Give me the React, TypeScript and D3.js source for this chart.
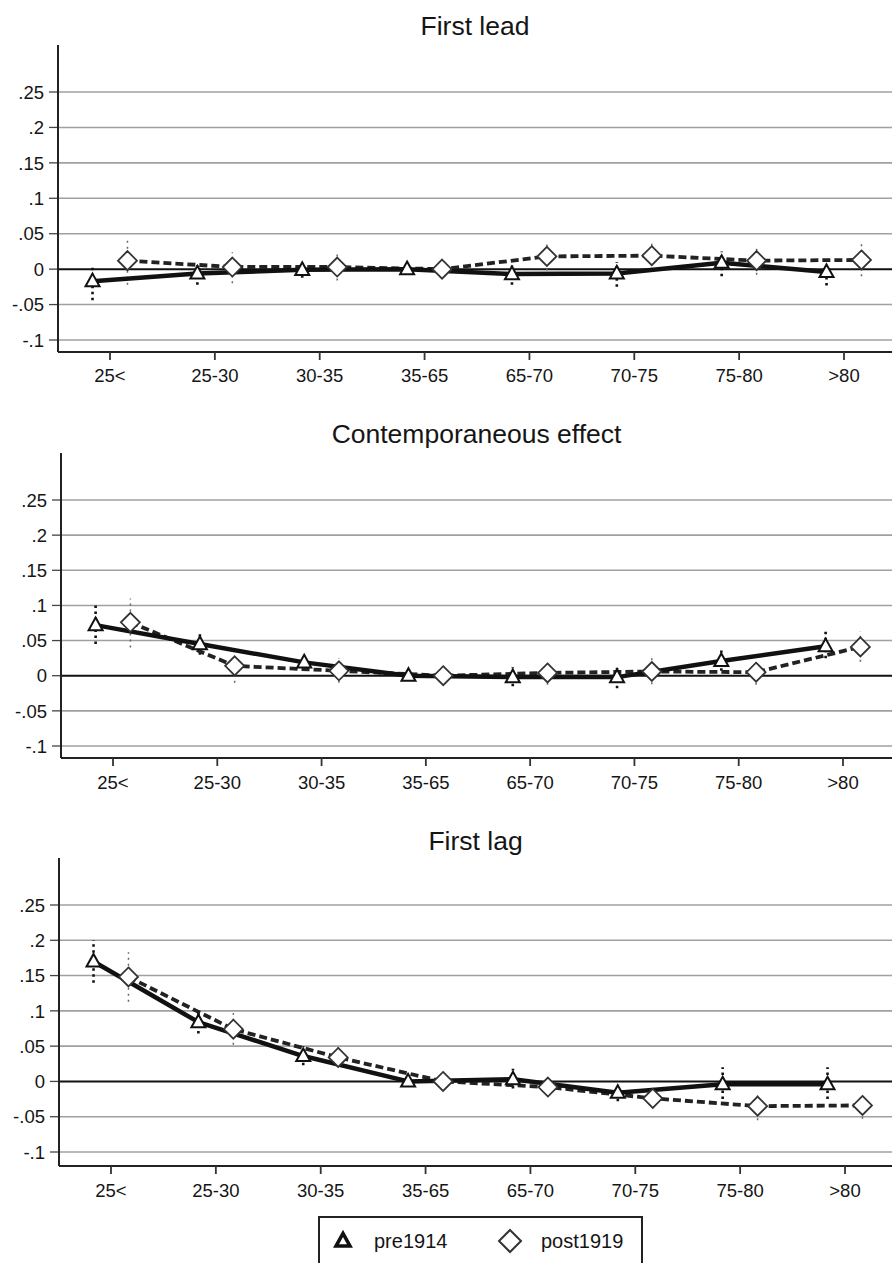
import React from "react";
import * as d3 from "d3";

const categories = ["25<", "25-30", "30-35", "35-65", "65-70", "70-75", "75-80", ">80"];
const yTicks = [-0.1, -0.05, 0, 0.05, 0.1, 0.15, 0.2, 0.25];
const yTickLabels = ["-.1", "-.05", "0", ".05", ".1", ".15", ".2", ".25"];
const panelTitles = ["First lead", "Contemporaneous effect", "First lag"];
const seriesNames = ["pre1914", "post1919"];

// First lead
const leadPre = [-0.017, -0.006, -0.001, 0, -0.007, -0.006, 0.009, -0.004];
const leadPreLo = [-0.044, -0.022, -0.012, 0, -0.022, -0.025, -0.01, -0.023];
const leadPreHi = [0.003, 0.005, 0.01, 0, 0.005, 0.01, 0.025, 0.01];
const leadPost = [0.012, 0.003, 0.003, 0, 0.018, 0.019, 0.012, 0.013];
const leadPostLo = [-0.022, -0.02, -0.016, 0, -0.002, -0.001, -0.008, -0.01];
const leadPostHi = [0.042, 0.024, 0.022, 0, 0.038, 0.04, 0.03, 0.035];

// Contemporaneous effect
const contPre = [0.072, 0.045, 0.019, 0, -0.002, -0.002, 0.021, 0.042];
const contPreLo = [0.045, 0.03, 0.008, 0, -0.015, -0.018, 0.007, 0.025];
const contPreHi = [0.1, 0.062, 0.03, 0, 0.012, 0.012, 0.036, 0.063];
const contPost = [0.076, 0.014, 0.007, 0, 0.004, 0.006, 0.005, 0.041];
const contPostLo = [0.04, -0.01, -0.01, 0, -0.013, -0.012, -0.013, 0.02];
const contPostHi = [0.11, 0.03, 0.025, 0, 0.02, 0.025, 0.015, 0.063];

// First lag
const lagPre = [0.17, 0.084, 0.036, 0, 0.003, -0.016, -0.004, -0.004];
const lagPreLo = [0.14, 0.068, 0.023, 0, -0.01, -0.028, -0.025, -0.025];
const lagPreHi = [0.2, 0.1, 0.05, 0, 0.018, -0.003, 0.02, 0.02];
const lagPost = [0.148, 0.074, 0.034, 0, -0.008, -0.024, -0.035, -0.034];
const lagPostLo = [0.113, 0.052, 0.02, 0, -0.022, -0.038, -0.055, -0.053];
const lagPostHi = [0.183, 0.097, 0.05, 0, 0.005, -0.01, -0.02, -0.02];

const panelData = [
  { pre: leadPre, preLo: leadPreLo, preHi: leadPreHi, post: leadPost, postLo: leadPostLo, postHi: leadPostHi },
  { pre: contPre, preLo: contPreLo, preHi: contPreHi, post: contPost, postLo: contPostLo, postHi: contPostHi },
  { pre: lagPre, preLo: lagPreLo, preHi: lagPreHi, post: lagPost, postLo: lagPostLo, postHi: lagPostHi },
];

// layout (pixels)
const W = 892;
const H = 1263;
const layouts = [
  { axisX: 58, axisTop: 45, yBottom: 340, yTop: 92, xAxisY: 352, x0: 110, x1: 844, titleY: 35, labelY: 382 },
  { axisX: 61, axisTop: 453, yBottom: 746, yTop: 500, xAxisY: 758, x0: 113, x1: 843, titleY: 443, labelY: 789 },
  { axisX: 59, axisTop: 858, yBottom: 1152, yTop: 905, xAxisY: 1166, x0: 111, x1: 845, titleY: 850, labelY: 1197 },
];

const FONT = "'Liberation Sans', Arial, Helvetica, sans-serif";
const TXT = "#151515";

function triPath(cx: number, cy: number, s: number) {
  const h = s * 0.9;
  return `M${cx},${cy - h * 0.6} L${cx + s / 2},${cy + h * 0.4} L${cx - s / 2},${cy + h * 0.4} Z`;
}
function diaPath(cx: number, cy: number, r: number) {
  return `M${cx},${cy - r} L${cx + r},${cy} L${cx},${cy + r} L${cx - r},${cy} Z`;
}

function Panel({ idx }: { idx: number }) {
  const L = layouts[idx];
  const d = panelData[idx];
  const x = d3.scalePoint<string>().domain(categories).range([L.x0, L.x1]);
  const step = x.step();
  const off = step / 6;
  const y = d3.scaleLinear().domain([-0.1, 0.25]).range([L.yBottom, L.yTop]);
  const preLine = d3.line<number>().x((_, i) => (x(categories[i]) as number) - off).y((v) => y(v));
  const postLine = d3.line<number>().x((_, i) => (x(categories[i]) as number) + off).y((v) => y(v));
  const plotCenter = (L.axisX + W) / 2;
  return (
    <g>
      <text x={plotCenter} y={L.titleY} textAnchor="middle" fontSize={26.5} fill={TXT} fontFamily={FONT}>
        {panelTitles[idx]}
      </text>
      {yTicks.map((t, i) => (
        <g key={"g" + i}>
          {t !== 0 && (
            <line x1={L.axisX} x2={W} y1={y(t)} y2={y(t)} stroke="#a0a0a0" strokeWidth={1.6} />
          )}
          <line x1={L.axisX - 9} x2={L.axisX} y1={y(t)} y2={y(t)} stroke="#444" strokeWidth={1.3} />
          <text
            x={L.axisX - 14}
            y={y(t)}
            dy="0.36em"
            textAnchor="end"
            fontSize={18.5}
            fill={TXT}
            fontFamily={FONT}
          >
            {yTickLabels[i]}
          </text>
        </g>
      ))}
      <line x1={L.axisX} x2={W} y1={y(0)} y2={y(0)} stroke="#111" strokeWidth={2} />
      <line x1={L.axisX} x2={L.axisX} y1={L.axisTop} y2={L.xAxisY} stroke="#222" strokeWidth={2} />
      <line x1={L.axisX} x2={W} y1={L.xAxisY} y2={L.xAxisY} stroke="#222" strokeWidth={2} />
      {categories.map((c) => (
        <g key={"x" + c}>
          <line x1={x(c)} x2={x(c)} y1={L.xAxisY} y2={L.xAxisY + 8} stroke="#333" strokeWidth={1.8} />
          <text x={x(c)} y={L.labelY} textAnchor="middle" fontSize={18.5} fill={TXT} fontFamily={FONT}>
            {c}
          </text>
        </g>
      ))}
      {categories.map((c, i) =>
        d.postHi[i] !== d.postLo[i] ? (
          <line
            key={"cp" + i}
            x1={(x(c) as number) + off}
            x2={(x(c) as number) + off}
            y1={y(d.postLo[i])}
            y2={y(d.postHi[i])}
            stroke="#666"
            strokeWidth={1.5}
            strokeDasharray="2 4"
          />
        ) : null
      )}
      {categories.map((c, i) =>
        d.preHi[i] !== d.preLo[i] ? (
          <line
            key={"cr" + i}
            x1={(x(c) as number) - off}
            x2={(x(c) as number) - off}
            y1={y(d.preLo[i])}
            y2={y(d.preHi[i])}
            stroke="#111"
            strokeWidth={2.6}
            strokeDasharray="2.5 3.5"
          />
        ) : null
      )}
      <path d={postLine(d.post) || ""} fill="none" stroke="#222" strokeWidth={3.8} strokeDasharray="8 4" />
      <path d={preLine(d.pre) || ""} fill="none" stroke="#111" strokeWidth={4.5} strokeLinejoin="round" />
      {categories.map((c, i) => (
        <path
          key={"mp" + i}
          d={diaPath((x(c) as number) + off, y(d.post[i]), 9.5)}
          fill="#fff"
          stroke="#333"
          strokeWidth={1.8}
        />
      ))}
      {categories.map((c, i) => (
        <path
          key={"mr" + i}
          d={triPath((x(c) as number) - off, y(d.pre[i]), 14)}
          fill="#fff"
          stroke="#111"
          strokeWidth={2}
        />
      ))}
    </g>
  );
}

export default function App() {
  return (
    <svg
      width={W}
      height={H}
      viewBox={`0 0 ${W} ${H}`}
      style={{ position: "absolute", left: 0, top: 0, background: "#fff" }}
    >
      <rect x={0} y={0} width={W} height={H} fill="#fff" />
      {[0, 1, 2].map((i) => (
        <Panel key={i} idx={i} />
      ))}
      <g>
        <rect x={319} y={1217} width={323} height={60} fill="#fff" stroke="#222" strokeWidth={2} />
        <path d={triPath(343, 1241, 14)} fill="#fff" stroke="#111" strokeWidth={3.5} />
        <text x={374} y={1248} fontSize={20} fill={TXT} fontFamily={FONT}>
          {seriesNames[0]}
        </text>
        <path d={diaPath(510, 1241, 11)} fill="#fff" stroke="#333" strokeWidth={2} />
        <text x={541} y={1248} fontSize={20} fill={TXT} fontFamily={FONT}>
          {seriesNames[1]}
        </text>
      </g>
    </svg>
  );
}
